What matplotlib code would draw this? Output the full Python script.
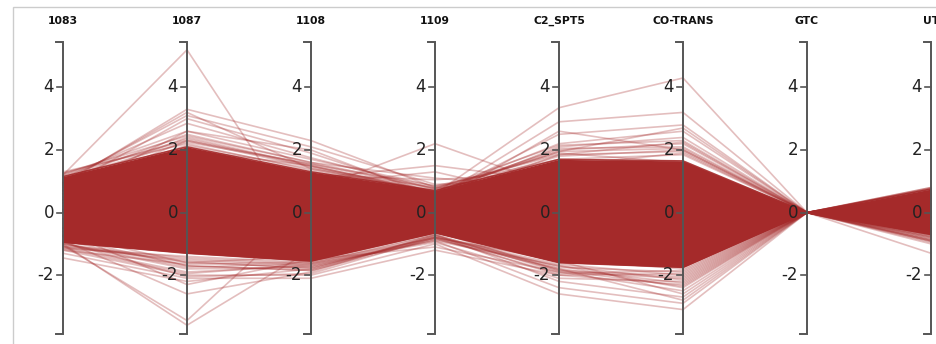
import numpy as np
import matplotlib
matplotlib.use("Agg")
import matplotlib.pyplot as plt
from matplotlib.patches import Rectangle

# Parallel-coordinates view of standardised scores per feature.
dimensions = ["1083", "1087", "1108", "1109", "C2_SPT5", "CO-TRANS", "GTC", "UT"]
tick_values = [-2, 0, 2, 4]
tick_labels = ["-2", "0", "2", "4"]

# One list per dimension; position i in every list belongs to record i.
# The first `dense_records` records span the heavily populated core band.
dense_records = 9
v1083 = [1.15, 0.95, 0.70, 0.40, 0.10, -0.20, -0.50, -0.75, -0.95,
         1.20, -1.00, -1.05, 0.90, 1.00, 0.80, 1.10, 0.60, 1.25, 0.70, 0.95,
         0.30, 0.50, 0.20, 0.60,
         0.40, 0.20, 0.50, -0.20, 0.30, 0.10, 0.70, 0.45, 0.85,
         -1.45, -1.30, -1.20, -1.10, -0.90, -0.60, -1.00, -0.80, -1.15, -0.70, -0.95,
         1.25, 1.05, 1.30, 0.90, 1.20, 1.10, 0.85, 1.18,
         -1.05, -1.00, -1.15, -0.90, -1.10, -0.98, -1.08, -1.20]
v1087 = [2.10, 1.80, 1.40, 0.85, 0.25, -0.25, -0.70, -1.05, -1.30,
         5.20, -3.60, -3.45, 3.30, 3.10, 3.00, 2.85, 2.60, 2.45, 2.30, 3.20,
         0.80, 1.20, 0.60, 1.00,
         1.00, 0.70, 1.30, 0.40, 1.50, 0.90, 1.70, 1.10, 2.00,
         -2.20, -2.10, -2.00, -1.90, -2.60, -2.30, -1.80, -1.70, -1.95, -1.60, -2.05,
         2.30, 2.50, 2.20, 2.40, 2.60, 2.25, 2.15, 2.35,
         -1.45, -1.60, -1.40, -1.70, -1.50, -1.75, -1.55, -1.65]
v1108 = [1.30, 1.10, 0.85, 0.50, 0.10, -0.35, -0.85, -1.25, -1.55,
         -0.80, -1.20, 0.20, 2.30, 2.10, 1.90, 1.75, 2.00, 1.60, 1.55, 1.40,
         0.70, 1.10, 0.90, 1.20,
         0.50, 0.30, 0.80, 0.20, 1.00, 0.60, 1.30, 0.70, 1.50,
         -1.80, -2.10, -2.00, -1.70, -1.90, -1.50, -1.75, -1.85, -1.65, -1.40, -1.95,
         1.45, 1.60, 1.35, 1.50, 1.70, 1.55, 1.40, 1.48,
         -1.65, -1.75, -1.60, -1.85, -1.70, -1.62, -1.80, -1.58]
v1109 = [0.70, 0.55, 0.40, 0.25, 0.05, -0.15, -0.35, -0.50, -0.65,
         -0.20, -0.40, 0.10, 0.80, 0.90, 0.60, 0.75, 0.50, 1.10, 0.85, 0.65,
         2.20, 1.50, 1.30, 1.05,
         0.60, 0.45, 0.30, 0.50, 0.65, 0.55, 0.68, 0.40, 0.62,
         -0.80, -1.20, -1.00, -0.90, -0.70, -1.10, -0.85, -0.75, -0.95, -0.60, -0.80,
         0.60, 0.78, 0.72, 0.65, 0.85, 0.75, 0.80, 0.68,
         -0.72, -0.80, -0.70, -0.85, -0.78, -0.90, -0.75, -0.82]
vC2_SPT5 = [1.70, 1.40, 1.05, 0.60, 0.15, -0.30, -0.80, -1.25, -1.60,
            0.30, -0.50, 0.20, 0.90, 1.10, 1.30, 1.60, 0.90, 0.80, 1.20, 1.00,
            0.80, 1.00, 0.40, 1.30,
            3.35, 2.90, 2.60, 2.50, 2.20, 2.10, 1.95, 1.85, 2.05,
            -1.50, -2.00, -2.60, -2.40, -2.20, -1.90, -1.70, -1.80, -2.10, -1.85, -1.55,
            1.50, 1.90, 2.00, 1.80, 1.70, 2.15, 1.85, 1.95,
            -1.75, -1.65, -1.90, -1.80, -2.00, -1.70, -1.85, -1.95]
vCO_TRANS = [1.65, 1.40, 1.05, 0.55, 0.10, -0.40, -0.90, -1.35, -1.75,
             0.20, -0.60, 0.10, 0.80, 1.20, 1.00, 1.60, 1.30, 0.90, 1.10, 0.70,
             0.60, 0.90, 0.30, 1.50,
             4.30, 3.20, 2.00, 2.80, 2.60, 2.40, 2.70, 2.25, 2.10,
             -1.80, -2.30, -3.10, -2.90, -2.70, -2.50, -2.40, -2.80, -2.20, -2.35, -2.60,
             1.90, 1.60, 2.20, 2.00, 1.85, 2.30, 1.95, 2.05,
             -1.90, -2.00, -2.10, -2.25, -1.95, -2.15, -2.05, -1.85]
vGTC = [0.0] * 60
vUT = [0.75, 0.60, 0.45, 0.25, 0.05, -0.15, -0.35, -0.50, -0.70,
       0.10, -0.30, 0.05, 0.40, 0.50, 0.30, 0.55, 0.35, 0.60, 0.20, 0.45,
       0.30, 0.40, 0.20, 0.50,
       0.50, 0.40, 0.20, 0.30, 0.60, 0.45, 0.35, 0.55, 0.80,
       -0.60, -0.90, -1.30, -1.00, -0.80, -0.70, -0.75, -0.85, -0.65, -0.55, -0.90,
       0.70, 0.55, 0.78, 0.65, 0.80, 0.72, 0.60, 0.76,
       -0.78, -0.85, -0.80, -0.92, -0.75, -0.88, -0.95, -0.72]

columns = [v1083, v1087, v1108, v1109, vC2_SPT5, vCO_TRANS, vGTC, vUT]
values = np.array(columns, dtype=float)          # shape (dims, records)
n_dims = len(dimensions)
xs = np.arange(n_dims)

LINE = "#a52a2a"
AXIS = "#555555"
y_lo, y_hi = -3.88, 5.45

W, H = 937, 344
fig = plt.figure(figsize=(W / 100, H / 100), dpi=100)
fig.patch.set_facecolor("white")

ax_left, ax_right = 63, 931
ax_top, ax_bottom = 42, 334
ax = fig.add_axes([ax_left / W, 1 - ax_bottom / H,
                   (ax_right - ax_left) / W, (ax_bottom - ax_top) / H])
ax.set_xlim(0, n_dims - 1)
ax.set_ylim(y_lo, y_hi)
ax.axis("off")

px_x = (n_dims - 1) / (ax_right - ax_left)      # data units per pixel (x)

# Core band: envelope of the densely populated records.
core = values[:, :dense_records]
ax.fill_between(xs, core.min(axis=1), core.max(axis=1),
                color=LINE, lw=0, zorder=1)
for j in range(values.shape[1]):
    alpha = 0.9 if j < dense_records else 0.3
    ax.plot(xs, values[:, j], color=LINE, alpha=alpha, lw=1.2,
            solid_joinstyle="miter", zorder=2, clip_on=False)

# Vertical axes with left-pointing end caps and ticks.
for i, name in enumerate(dimensions):
    cap = 7 * px_x
    ax.plot([i - cap, i, i, i - cap], [y_hi, y_hi, y_lo, y_lo],
            color=AXIS, lw=1.4, zorder=5, clip_on=False,
            solid_joinstyle="miter")
    for tv, tl in zip(tick_values, tick_labels):
        ax.plot([i - 6 * px_x, i], [tv, tv], color=AXIS, lw=1.2,
                zorder=5, clip_on=False)
        ax.text(i - 9 * px_x, tv, tl, ha="right", va="center",
                fontsize=12, color="#222222", family="DejaVu Sans",
                zorder=6, clip_on=False)
    fig.text((ax_left + i * (ax_right - ax_left) / (n_dims - 1)) / W,
             1 - 21 / H, name, ha="center", va="center",
             fontsize=7.8, fontweight="bold", color="#111111",
             family="DejaVu Sans")

# Light frame around the panel.
fig.add_artist(Rectangle((13 / W, -0.1), 1.2, 1.1 - 7 / H,
                         transform=fig.transFigure, fill=False,
                         edgecolor="#cccccc", lw=1.0))

fig.savefig("out.png", dpi=100, facecolor="white")
